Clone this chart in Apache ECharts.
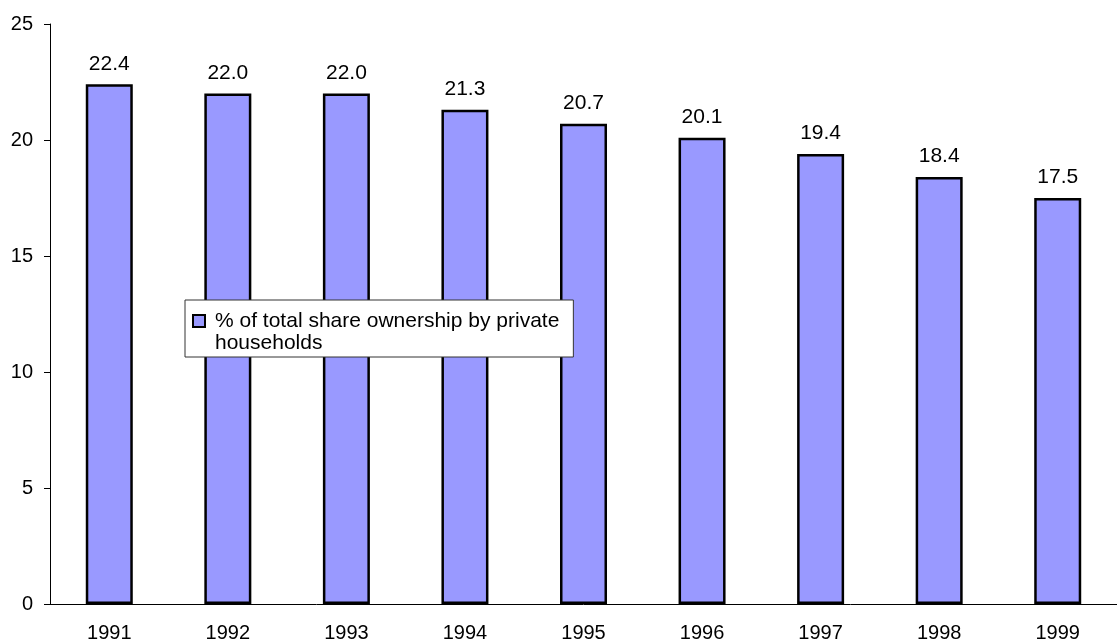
<!DOCTYPE html>
<html><head><meta charset="utf-8">
<script src="https://cdn.jsdelivr.net/npm/echarts@6/dist/echarts.min.js"></script>
<style>html,body{margin:0;padding:0;background:#fff}#c{width:1117px;height:643px}</style>
</head><body><div id="c"></div>
<script>
const categories = ['1991','1992','1993','1994','1995','1996','1997','1998','1999'];
const shareValues = [22.4, 22.0, 22.0, 21.3, 20.7, 20.1, 19.4, 18.4, 17.5];
const seriesName = '% of total share ownership by private households';
const legendLines = ['% of total share ownership by private', 'households'];
const yTicks = [0, 5, 10, 15, 20, 25];

const chart = echarts.init(document.getElementById('c'));
const font = 'Liberation Sans, Arial, sans-serif';
chart.setOption({
  animation: false,
  backgroundColor: '#fff',
  grid: { left: 50, top: 24, width: 1071, bottom: 38, containLabel: false },
  legend: {
    left: 185, top: 300,
    orient: 'vertical',
    backgroundColor: '#fff',
    borderColor: '#333',
    borderWidth: 1,
    borderRadius: 0,
    padding: [10, 14, 3, 4],
    itemWidth: 0, itemHeight: 0, itemGap: 0,
    icon: 'none',
    formatter: () => '{box|}{t|' + legendLines[0] + '}\n{t2|' + legendLines[1] + '}',
    textStyle: {
      fontFamily: font, fontSize: 21, color: '#000', lineHeight: 22,
      rich: {
        box: { width: 10, height: 10, backgroundColor: '#9999FF', borderColor: '#000', borderWidth: 2, verticalAlign: 'middle' },
        t: { fontFamily: font, fontSize: 21, color: '#000', lineHeight: 22, padding: [0, 0, 0, 11] },
        t2: { fontFamily: font, fontSize: 21, color: '#000', lineHeight: 22, padding: [0, 0, 0, 21] }
      }
    },
    data: [seriesName]
  },
  xAxis: {
    type: 'category',
    data: categories,
    axisLine: { lineStyle: { color: '#000', width: 1 } },
    axisTick: { alignWithLabel: false, length: 6, lineStyle: { color: '#000' } },
    axisLabel: { fontFamily: font, fontSize: 20, color: '#000', margin: 19 }
  },
  yAxis: {
    type: 'value',
    min: yTicks[0], max: yTicks[yTicks.length - 1], interval: 5,
    splitLine: { show: false },
    axisLine: { show: true, lineStyle: { color: '#000', width: 1 } },
    axisTick: { show: true, length: 6, lineStyle: { color: '#000' } },
    axisLabel: { fontFamily: font, fontSize: 20, color: '#000', margin: 17 }
  },
  series: [{
    name: seriesName,
    type: 'bar',
    data: shareValues,
    barWidth: 47,
    itemStyle: { color: '#9999FF', borderColor: '#000', borderWidth: 2.5 },
    label: {
      show: true, position: 'top', distance: 10,
      fontFamily: font, fontSize: 21, color: '#000',
      formatter: p => p.value.toFixed(1)
    }
  }]
});
</script></body></html>
